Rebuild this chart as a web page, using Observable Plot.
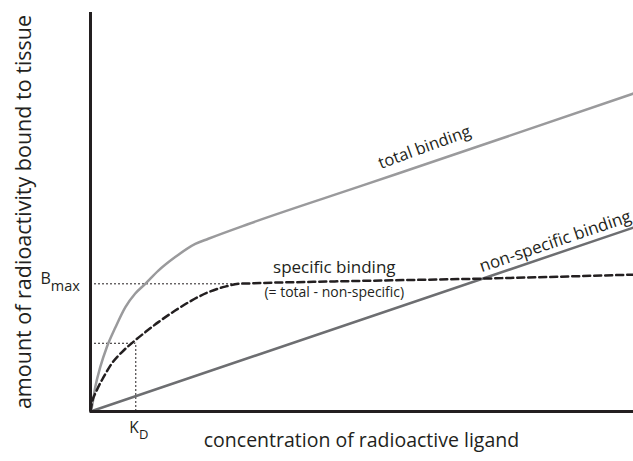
<!DOCTYPE html>
<html><head><meta charset="utf-8">
<script src="https://cdn.jsdelivr.net/npm/d3@7"></script>
<script src="https://cdn.jsdelivr.net/npm/@observablehq/plot@0.6"></script>
<style>body{margin:0;background:#fff}</style>
</head><body><div id="chart"></div>
<script>
// ligand concentration (arbitrary units) and bound amount (arbitrary units)
const totalX = [0, 0.24, 0.87, 1.79, 3.0, 4.6, 6.4, 8.2, 10.1, 12.5, 15.6, 19.3, 21.7, 29.1, 50, 75, 100];
const totalY = [0, 1.08, 6.1, 11.1, 16.1, 21.1, 26.1, 29.5, 32.0, 35.3, 38.7, 42.0, 43.3, 47.0, 56.6, 68.1, 79.7];
const specX = [0, 0.24, 1.16, 2.4, 3.9, 5.8, 8.2, 10.1, 12.5, 15.6, 18.6, 21.7, 24.8, 27.3, 29.1, 45, 71.8, 100];
const specY = [0, 1.9, 5.3, 8.6, 12.0, 14.9, 17.8, 19.9, 22.4, 25.3, 27.8, 29.9, 31.3, 32.0, 32.1, 32.6, 33.3, 34.3];
const nonX = [0, 100];
const nonY = [0, 46.1];
const bmax = 32.0;
const kd = 8.34;
const halfB = 17.1;
const labels = {
  yAxis: "amount of radioactivity bound to tissue",
  xAxis: "concentration of radioactive ligand",
  total: "total binding",
  nonspec: "non-specific binding",
  spec: "specific binding",
  specNote: "(= total - non-specific)"
};
const total = totalX.map((x, i) => ({x, y: totalY[i]}));
const spec = specX.map((x, i) => ({x, y: specY[i]}));
const non = nonX.map((x, i) => ({x, y: nonY[i]}));
const ink = "#231f20";
const chart = Plot.plot({
  width: 633, height: 461,
  marginLeft: 90, marginRight: 0, marginTop: 12, marginBottom: 50,
  x: {domain: [0, 100], axis: null},
  y: {domain: [0, 100], axis: null},
  style: {fontFamily: "'Open Sans', sans-serif", background: "#fff", color: ink},
  marks: [
    Plot.ruleY([bmax], {x1: 0, x2: 27.5, stroke: ink, strokeWidth: 1, strokeDasharray: "2,2"}),
    Plot.ruleY([halfB], {x1: 0, x2: kd, stroke: ink, strokeWidth: 1, strokeDasharray: "2,2"}),
    Plot.ruleX([kd], {y1: 0, y2: halfB, stroke: ink, strokeWidth: 1, strokeDasharray: "2,2"}),
    Plot.line(non, {x: "x", y: "y", stroke: "#6d6e71", strokeWidth: 2.5}),
    Plot.line(total, {x: "x", y: "y", stroke: "#9a9a9c", strokeWidth: 2.5, curve: "monotone-x"}),
    Plot.line(spec, {x: "x", y: "y", stroke: ink, strokeWidth: 2.5, strokeDasharray: "7,4", curve: "monotone-x"}),
    Plot.ruleX([0], {stroke: ink, strokeWidth: 3}),
    Plot.ruleY([0], {stroke: ink, strokeWidth: 3}),
    Plot.text([labels.yAxis], {frameAnchor: "left", dx: -66, textAnchor: "middle", rotate: -90, fontSize: 21.5, fill: ink}),
    Plot.text([labels.xAxis], {x: 49.9, frameAnchor: "bottom", dy: 35, fontSize: 19.5, fill: ink}),
    Plot.text([labels.total], {x: 61.5, y: 66.2, rotate: -20, fontSize: 16.5, fill: ink}),
    Plot.text([labels.nonspec], {x: 85.6, y: 42.6, rotate: -18.8, fontSize: 17, fill: ink}),
    Plot.text([labels.spec], {x: 44.9, y: 36.1, fontSize: 17, fill: ink}),
    Plot.text([labels.specNote], {x: 44.9, y: 29.8, fontSize: 14, fill: ink}),
    Plot.text(["B"], {x: -9.2, y: 33.3, textAnchor: "start", fontSize: 16, fill: ink}),
    Plot.text(["max"], {x: -7.3, y: 31.4, textAnchor: "start", fontSize: 14.5, fill: ink}),
    Plot.text(["K"], {x: 7.13, frameAnchor: "bottom", dy: 21, textAnchor: "start", fontSize: 15.5, fill: ink}),
    Plot.text(["D"], {x: 8.95, frameAnchor: "bottom", dy: 27, textAnchor: "start", fontSize: 13, fill: ink})
  ]
});
document.getElementById("chart").appendChild(chart);
</script>
</body></html>
